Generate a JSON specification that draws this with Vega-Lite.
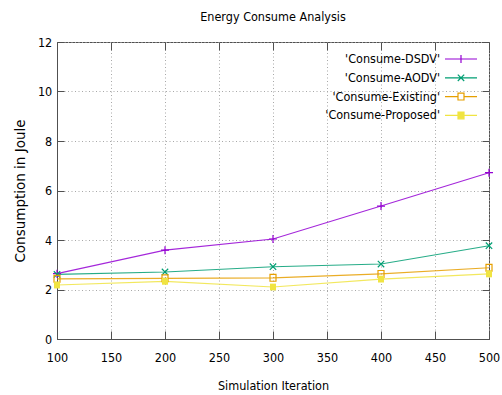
{
  "$schema": "https://vega.github.io/schema/vega-lite/v6.json",
  "width": 432,
  "height": 297,
  "autosize": {"type": "none"},
  "padding": {"left": 57, "top": 42, "right": 13, "bottom": 56},
  "background": "white",
  "title": {"text": "Energy Consume Analysis", "font": "DejaVu Sans Condensed", "fontSize": 12.5, "fontWeight": "normal", "color": "#000000", "anchor": "middle", "frame": "group", "baseline": "alphabetic", "offset": 2.5},
  "data": {"values": [
    {"x": 100, "series": "Consume-DSDV", "y": 2.64},
    {"x": 200, "series": "Consume-DSDV", "y": 3.59},
    {"x": 300, "series": "Consume-DSDV", "y": 4.04},
    {"x": 400, "series": "Consume-DSDV", "y": 5.37},
    {"x": 500, "series": "Consume-DSDV", "y": 6.72},
    {"x": 100, "series": "Consume-AODV", "y": 2.61},
    {"x": 200, "series": "Consume-AODV", "y": 2.71},
    {"x": 300, "series": "Consume-AODV", "y": 2.92},
    {"x": 400, "series": "Consume-AODV", "y": 3.03},
    {"x": 500, "series": "Consume-AODV", "y": 3.77},
    {"x": 100, "series": "Consume-Existing", "y": 2.43},
    {"x": 200, "series": "Consume-Existing", "y": 2.45},
    {"x": 300, "series": "Consume-Existing", "y": 2.47},
    {"x": 400, "series": "Consume-Existing", "y": 2.63},
    {"x": 500, "series": "Consume-Existing", "y": 2.88},
    {"x": 100, "series": "Consume-Proposed", "y": 2.18},
    {"x": 200, "series": "Consume-Proposed", "y": 2.33},
    {"x": 300, "series": "Consume-Proposed", "y": 2.10},
    {"x": 400, "series": "Consume-Proposed", "y": 2.42},
    {"x": 500, "series": "Consume-Proposed", "y": 2.63}
  ]},
  "layer": [
    {
      "mark": {"type": "line", "strokeWidth": 1.1, "opacity": 0.85},
      "encoding": {
        "x": {"field": "x", "type": "quantitative", "scale": {"domain": [100, 500], "nice": false, "zero": false},
          "axis": {"values": [100, 150, 200, 250, 300, 350, 400, 450, 500], "title": "Simulation Iteration", "tickSize": -8, "labelPadding": 20.8, "titleY": 50, "titleBaseline": "alphabetic", "grid": true, "labelFlush": false, "labelOverlap": false, "labelBound": false}},
        "y": {"field": "y", "type": "quantitative", "scale": {"domain": [0, 12], "nice": false},
          "axis": {"values": [0, 2, 4, 6, 8, 10, 12], "title": "Consumption in Joule", "tickSize": -7, "labelPadding": 12.3, "titleX": -37, "titleY": 148.5, "titleAngle": -90, "titleAlign": "center", "titleBaseline": "middle", "titleFont": "DejaVu Sans", "titleFontSize": 13.5, "grid": true, "labelOverlap": false}},
        "color": {"field": "series", "type": "nominal",
          "scale": {"domain": ["Consume-DSDV", "Consume-AODV", "Consume-Existing", "Consume-Proposed"], "range": ["#9400d3", "#009e73", "#e69f00", "#f0e442"]},
          "legend": {
            "orient": "none", "legendX": 397.75, "legendY": 10.75, "title": null, "padding": 0,
            "symbolSize": 64, "symbolStrokeWidth": 1.2,
            "labelAlign": "right", "labelOffset": -27.25, "rowPadding": 5.8,
            "labelFont": "DejaVu Sans Condensed", "labelFontSize": 12.5, "labelColor": "#000000", "labelLimit": 0,
            "labelExpr": "\"'\" + datum.label + \"'\"",
            "encoding": {"symbols": {
              "shape": {"value": {"expr": "datum.value === 'Consume-DSDV' ? 'M-4,0H4M0,-1V1' : datum.value === 'Consume-AODV' ? 'M-4,0H4M-0.8,-0.8L0.8,0.8M-0.8,0.8L0.8,-0.8' : datum.value === 'Consume-Existing' ? 'M-4,0H-0.75M0.75,0H4M-0.75,-0.85H0.75V0.85H-0.75Z' : 'M-4,0H4M-0.75,-0.85H0.75V0.85H-0.75Z'"}},
              "fill": {"value": {"expr": "datum.value === 'Consume-Proposed' ? '#f0e442' : 'transparent'"}},
              "strokeWidth": {"value": 1.2},
              "opacity": {"value": 1}
            }}
          }}
      }
    },
    {
      "transform": [{"filter": "datum.series === 'Consume-DSDV'"}],
      "mark": {"type": "point", "filled": false, "size": 64, "strokeWidth": 1.2, "opacity": 1, "color": "#9400d3", "shape": "M-1,0H1M0,-1V1"},
      "encoding": {
        "x": {"field": "x", "type": "quantitative", "axis": {"orient": "top", "values": [100, 150, 200, 250, 300, 350, 400, 450, 500], "labels": false, "title": null, "tickSize": -8, "grid": false, "domain": false}},
        "y": {"field": "y", "type": "quantitative", "axis": {"orient": "right", "values": [0, 2, 4, 6, 8, 10, 12], "labels": false, "title": null, "tickSize": -7, "grid": false, "domain": false}}
      }
    },
    {
      "transform": [{"filter": "datum.series === 'Consume-AODV'"}],
      "mark": {"type": "point", "filled": false, "size": 64, "strokeWidth": 1.2, "opacity": 1, "color": "#009e73", "shape": "M-0.8,-0.8L0.8,0.8M-0.8,0.8L0.8,-0.8"},
      "encoding": {
        "x": {"field": "x", "type": "quantitative", "axis": null},
        "y": {"field": "y", "type": "quantitative", "axis": null}
      }
    },
    {
      "transform": [{"filter": "datum.series === 'Consume-Existing'"}],
      "mark": {"type": "point", "filled": false, "size": 64, "strokeWidth": 1.2, "opacity": 1, "color": "#e69f00", "shape": "M-0.75,-0.85H0.75V0.85H-0.75Z"},
      "encoding": {
        "x": {"field": "x", "type": "quantitative", "axis": null},
        "y": {"field": "y", "type": "quantitative", "axis": null}
      }
    },
    {
      "transform": [{"filter": "datum.series === 'Consume-Proposed'"}],
      "mark": {"type": "point", "filled": true, "size": 64, "opacity": 1, "color": "#f0e442", "shape": "M-0.75,-0.85H0.75V0.85H-0.75Z"},
      "encoding": {
        "x": {"field": "x", "type": "quantitative", "axis": null},
        "y": {"field": "y", "type": "quantitative", "axis": null}
      }
    }
  ],
  "resolve": {"axis": {"x": "independent", "y": "independent"}},
  "config": {
    "view": {"stroke": "#505050", "strokeWidth": 1},
    "axis": {
      "labelFont": "DejaVu Sans Condensed", "labelFontSize": 12.5, "labelColor": "#000000",
      "titleFont": "DejaVu Sans Condensed", "titleFontSize": 12.5, "titleFontWeight": "normal", "titleColor": "#000000",
      "domainColor": "#505050", "tickColor": "#505050", "tickWidth": 1,
      "gridColor": "#a8a8a8", "gridDash": [1, 2.5], "gridWidth": 1
    }
  }
}
